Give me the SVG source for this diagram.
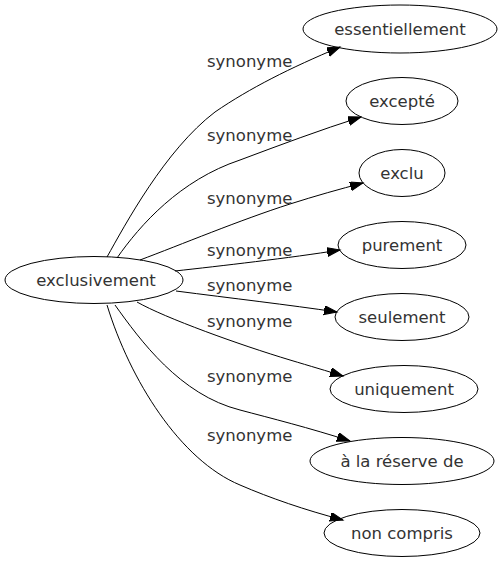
<svg xmlns="http://www.w3.org/2000/svg" width="502" height="563" viewBox="0 0 502 563">
<style>
.node ellipse{fill:none;stroke:#000;stroke-width:1}
.node text{font-family:"DejaVu Sans",sans-serif;font-size:16.5px;fill:#333;text-anchor:middle}
.edges path{fill:none;stroke:#000;stroke-width:1;marker-end:url(#arr)}
.edges text{font-family:"DejaVu Sans",sans-serif;font-size:16.5px;fill:#333}
</style>
<defs>
<marker id="arr" markerUnits="userSpaceOnUse" markerWidth="15" markerHeight="11" refX="13" refY="4.5" orient="auto">
<path d="M0,0 L13,4.5 L0,9 z" fill="#000" stroke="#000" stroke-width="1"/>
</marker>
</defs>
<rect width="502" height="563" fill="#fff"/>
<g id="edges" class="edges">
<path d="M107,257 C125,225 165,150 215,112 C250,88 290,68 340,47"/>
<text x="207" y="67">synonyme</text>
<path d="M117,258 C140,225 180,180 240,160 C280,145 320,130 361,117"/>
<text x="207" y="141">synonyme</text>
<path d="M140,260 C180,245 240,220 290,204 C315,196 340,189 363,183"/>
<text x="207" y="204">synonyme</text>
<path d="M175,271 C220,266 290,258 340,250"/>
<text x="207" y="256">synonyme</text>
<path d="M176,291 C230,298 290,305 337,312"/>
<text x="207" y="291">synonyme</text>
<path d="M137,302 C165,318 240,345 290,360 C310,366 327,371 343,376"/>
<text x="207" y="327">synonyme</text>
<path d="M115,305 C140,340 180,395 240,410 C270,418 310,428 350,441"/>
<text x="207" y="382">synonyme</text>
<path d="M107,305 C130,380 180,460 240,485 C270,498 305,510 343,520"/>
<text x="207" y="441">synonyme</text>
</g>
<g id="node-exclusivement" class="node"><ellipse cx="94" cy="280" rx="89" ry="23.5"/><text x="96" y="286">exclusivement</text></g>
<g id="node-essentiellement" class="node"><ellipse cx="400" cy="29" rx="97" ry="24"/><text x="400" y="35">essentiellement</text></g>
<g id="node-excepte" class="node"><ellipse cx="402" cy="101" rx="56" ry="23.5"/><text x="402" y="107">excepté</text></g>
<g id="node-exclu" class="node"><ellipse cx="402" cy="173" rx="43" ry="23.5"/><text x="402" y="179">exclu</text></g>
<g id="node-purement" class="node"><ellipse cx="402" cy="245" rx="64" ry="23.5"/><text x="402" y="251">purement</text></g>
<g id="node-seulement" class="node"><ellipse cx="402" cy="317" rx="67" ry="23.5"/><text x="402" y="323">seulement</text></g>
<g id="node-uniquement" class="node"><ellipse cx="404" cy="389" rx="74" ry="23.5"/><text x="404" y="395">uniquement</text></g>
<g id="node-a-la-reserve-de" class="node"><ellipse cx="402" cy="461" rx="92" ry="23.5"/><text x="402" y="467">à la réserve de</text></g>
<g id="node-non-compris" class="node"><ellipse cx="402" cy="533" rx="78" ry="23.5"/><text x="402" y="539">non compris</text></g>
</svg>
